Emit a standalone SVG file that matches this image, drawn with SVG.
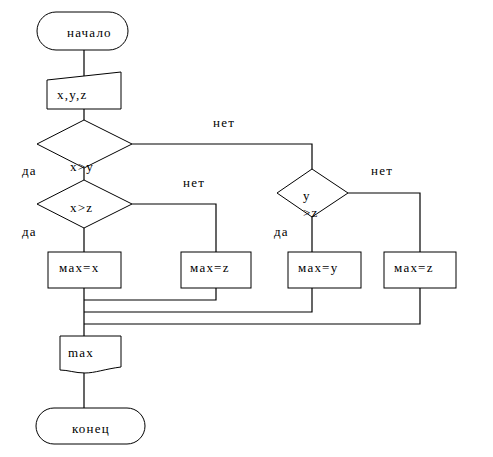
<svg xmlns="http://www.w3.org/2000/svg" width="493" height="457" viewBox="0 0 493 457" font-family="'Liberation Serif', 'Times New Roman', serif">
<style>
.s{fill:#fff;stroke:#000;stroke-width:1}
.c{fill:none;stroke:#000;stroke-width:1.2}
text{font-family:'Liberation Serif','Times New Roman',serif;font-size:13px;letter-spacing:1.2px;fill:#000}
</style>
<rect width="493" height="457" fill="#fff"/>
<g id="connectors">
<path class="c" d="M84,50V76 M84,109V120 M84,168V180 M84,228V252 M84,288V336 M84,372V408"/>
<path class="c" d="M132,144H312V169 M132,204H216V252 M348,193H420V252 M312,217V252"/>
<path class="c" d="M216,288V300H84 M312,288V312H84 M420,288V324H84"/>
</g>
<g id="start">
<rect class="s" x="37" y="12" width="91" height="38" rx="19" ry="19"/>
<text x="67" y="37">начало</text>
</g>
<g id="input">
<path class="s" d="M47,80L121,72V109H47Z"/>
<text x="57" y="99">x,y,z</text>
</g>
<g id="cond1">
<path class="s" d="M84,120L132,144L84,168L37,144Z"/>
<text x="70" y="171">x&gt;y</text>
</g>
<g id="cond2">
<path class="s" d="M84,180L132,204L84,228L37,204Z"/>
<text x="70" y="212">x&gt;z</text>
</g>
<g id="cond3">
<path class="s" d="M312,169L348,193L312,217L277,193Z"/>
<text x="303" y="200">y</text>
<text x="303" y="217">&gt;z</text>
</g>
<g id="box1">
<rect class="s" x="48" y="252" width="73" height="36"/>
<text x="59" y="272">мax=x</text>
</g>
<g id="box2">
<rect class="s" x="181" y="252" width="70" height="36"/>
<text x="190" y="272">мax=z</text>
</g>
<g id="box3">
<rect class="s" x="288" y="252" width="73" height="36"/>
<text x="298" y="272">мax=y</text>
</g>
<g id="box4">
<rect class="s" x="384" y="252" width="72" height="36"/>
<text x="394" y="272">мax=z</text>
</g>
<g id="output">
<path class="s" d="M60,336H121V367C105,369 95,373 85,373C75,373 68,370 60,370Z"/>
<text x="68" y="357">max</text>
</g>
<g id="end">
<rect class="s" x="36" y="408" width="109" height="36" rx="18" ry="18"/>
<text x="72" y="433">конец</text>
</g>
<g id="labels">
<text x="213" y="127">нет</text>
<text x="22" y="175">да</text>
<text x="183" y="187">нет</text>
<text x="22" y="236">да</text>
<text x="371" y="175">нет</text>
<text x="274" y="236">да</text>
</g>
</svg>
